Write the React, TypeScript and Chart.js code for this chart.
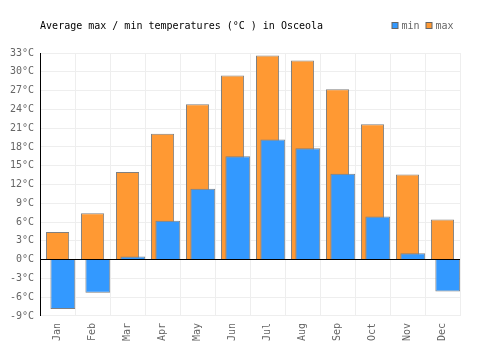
import React, { useEffect, useRef } from "react";
import { Chart, registerables } from "chart.js";

Chart.register(...registerables);

const months = ["Jan", "Feb", "Mar", "Apr", "May", "Jun", "Jul", "Aug", "Sep", "Oct", "Nov", "Dec"];
const minTemps = [-7.9, -5.3, 0.5, 6.2, 11.3, 16.5, 19.2, 17.8, 13.7, 6.9, 1.0, -5.1];
const maxTemps = [4.4, 7.4, 14.0, 20.1, 24.8, 29.4, 32.6, 31.8, 27.2, 21.6, 13.6, 6.4];
const titleText = "Average max / min temperatures (°C ) in Osceola";
const legendNames = ["min", "max"];
const seriesColors = ["#3399ff", "#ff9933"];

const FONT = "'DejaVu Sans Mono', monospace";

const shiftPlugin = {
  id: "shiftMin",
  afterDatasetsUpdate(chart: any) {
    const meta = chart.getDatasetMeta(0);
    const xs = chart.scales.x;
    const catW = (xs.right - xs.left) / months.length;
    meta.data.forEach((el: any) => {
      el.x = el.x + catW * 0.15;
    });
  },
};

const headerPlugin = {
  id: "header",
  afterDraw(chart: any) {
    const ctx = chart.ctx;
    ctx.save();
    ctx.font = `10px ${FONT}`;
    ctx.textBaseline = "middle";
    ctx.textAlign = "left";
    ctx.fillStyle = "#000";
    ctx.fillText(titleText, chart.chartArea.left, 26);
    let x = 392;
    legendNames.forEach((name, i) => {
      ctx.fillStyle = seriesColors[i];
      ctx.fillRect(x, 22.5, 6, 6);
      ctx.strokeStyle = "#666";
      ctx.lineWidth = 1;
      ctx.strokeRect(x, 22.5, 6, 6);
      ctx.fillStyle = "#666";
      ctx.fillText(name, x + 9.5, 26);
      x += 34;
    });
    ctx.restore();
  },
};

export default function App() {
  const ref = useRef<HTMLCanvasElement>(null);
  useEffect(() => {
    document.body.style.margin = "0";
    const chart = new Chart(ref.current!, {
      type: "bar",
      data: {
        labels: months,
        datasets: [
          {
            label: legendNames[0],
            data: minTemps,
            backgroundColor: seriesColors[0],
            borderColor: "#808080",
            borderWidth: 1,
            grouped: false,
            categoryPercentage: 1,
            barPercentage: 0.71,
          } as any,
          {
            label: legendNames[1],
            data: maxTemps,
            backgroundColor: seriesColors[1],
            borderColor: "#808080",
            borderWidth: 1,
            grouped: false,
            categoryPercentage: 1,
            barPercentage: 0.66,
          } as any,
        ],
      },
      options: {
        animation: false,
        responsive: false,
        maintainAspectRatio: false,
        layout: { padding: { left: 4, right: 40, top: 53, bottom: 2 } },
        plugins: {
          title: { display: false },
          tooltip: { enabled: false },
          legend: { display: false },
        },
        scales: {
          x: {
            grid: { color: "#eeeeee", drawTicks: false, offset: true },
            border: { display: false },
            ticks: {
              color: "#666",
              font: { family: FONT, size: 10 },
              minRotation: 90,
              maxRotation: 90,
              padding: 7,
            },
          },
          y: {
            min: -9,
            max: 33,
            grid: {
              drawTicks: false,
              color: (c: any) => (c.tick && c.tick.value === 0 ? "#000" : "#eeeeee"),
            },
            border: { display: true, color: "#000" },
            ticks: {
              stepSize: 3,
              color: "#666",
              padding: 6,
              font: { family: FONT, size: 10 },
              callback: (v: any) => `${v}°C`,
            },
          },
        },
      },
      plugins: [shiftPlugin, headerPlugin],
    } as any);
    return () => chart.destroy();
  }, []);
  return (
    <div style={{ width: 500, height: 350 }}>
      <canvas ref={ref} width={500} height={350} style={{ display: "block" }} />
    </div>
  );
}
